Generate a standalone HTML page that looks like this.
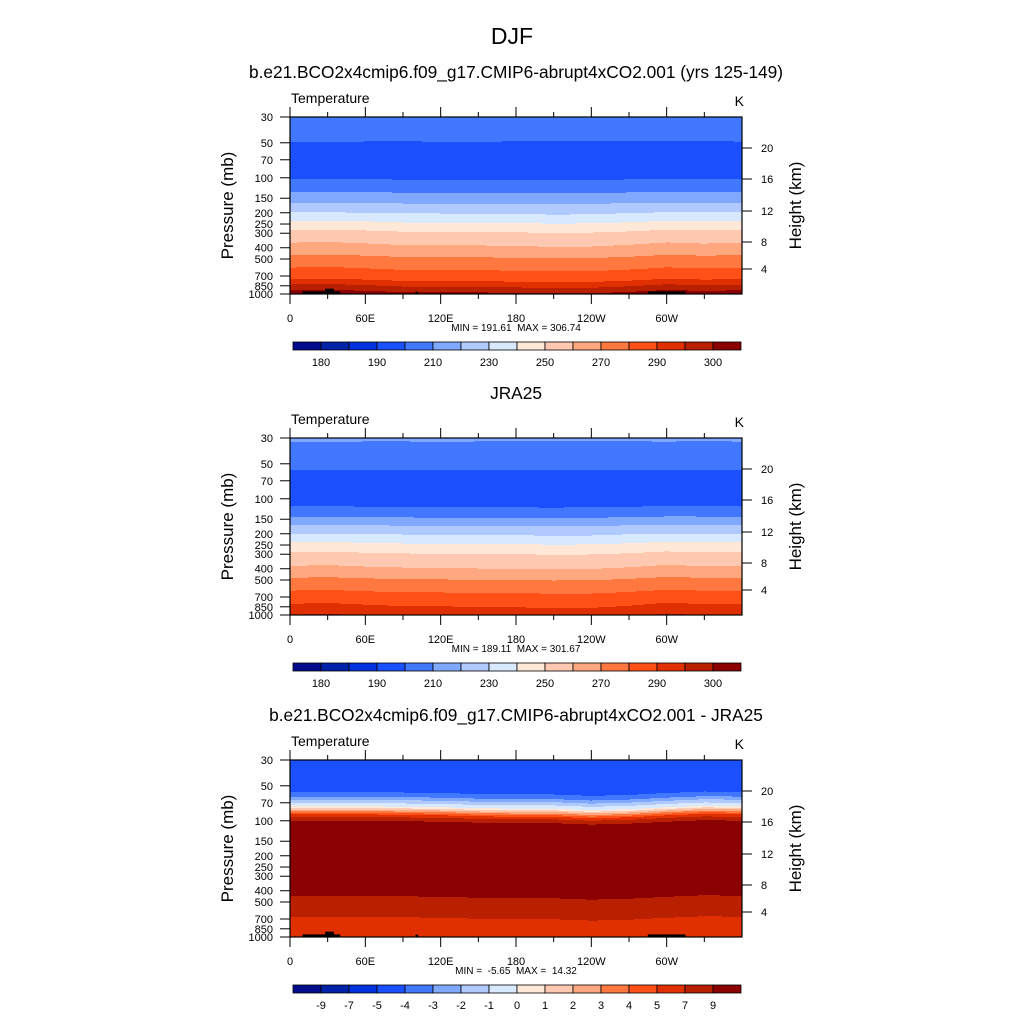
<!DOCTYPE html>
<html><head><meta charset="utf-8"><style>
body{margin:0;background:#fff;}
svg text{font-family:"Liberation Sans",Arial,sans-serif;fill:#000;white-space:pre;}
</style></head><body>
<svg id="fig" width="1024" height="1024" viewBox="0 0 1024 1024" xmlns="http://www.w3.org/2000/svg">
<rect width="1024" height="1024" fill="#fff"/>
<text x="512" y="44" font-size="23" text-anchor="middle">DJF</text>
<g id="root"></g>
</svg>
<script>
// ---- data ----
const colors=["#000c8c","#0022a8","#0033dd","#1a50ff","#4278ff","#80a8ff","#b0caff","#d8e8ff","#ffe8d8","#ffc8b0","#ffa880","#ff7840","#ff5018","#e03000","#b82000","#8b0000"];
const tLevels=[180,185,190,200,210,220,230,240,250,260,270,280,290,295,300];
const tLabels=["180","","190","","210","","230","","250","","270","","290","","300"];
const dLevels=[-9,-7,-5,-4,-3,-2,-1,0,1,2,3,4,5,7,9];
const dLabels=["-9","-7","-5","-4","-3","-2","-1","0","1","2","3","4","5","7","9"];
const pTicks=[30,50,70,100,150,200,250,300,400,500,700,850,1000];
const zTicks=["20","16","12","8","4"];
const zTickOffsets=[31,62,94,125,152];
const lonTicks=[0,60,120,180,240,300];
const lonLabels=["0","60E","120E","180","120W","60W"];
const lonPts=[0,30,60,90,120,150,180,210,240,270,300,330,360];
// panel 1 model temperature profile
const p1P=[30,45,52,70,95,110,130,150,180,210,250,300,400,500,650,800,900,1000];
const p1T=[207,203,197,194,196,203,209,214,225,232,242,252,262,272,282,292,297,302];
const p1LonAdd=[1.5,2,1,0,0,0,-0.5,-1,-1,0,1.5,0.5,1.5];
const p1Shift=[1,1,1,1.005,1.01,1.01,1.01,1.01,1.005,1.0,0.995,0.99,1];
// panel 2 reanalysis
const p2P=[30,33,48,60,90,100,110,130,150,180,210,250,300,400,500,650,800,900,1000];
const p2T=[212,209,205,198,194,192,197,205,212,224,232,242,251,261,271,281,289,292,294];
const p2LonAdd=[1,1.5,0.5,0,0,-0.5,-0.5,-1,-1,0,1.5,0.5,1];
const p2Shift=[1,1,1,1.005,1.01,1.01,1.01,1.01,1.005,1.0,0.995,0.99,1];
// panel 3 difference
const p3P=[30,45,55,62,68,75,80,88,95,105,200,400,460,600,700,850,1000];
const p3T=[-4.4,-4.8,-4.3,-3,-1.5,0,2,5,8,10,12,10,8.6,8,6.6,6.2,6];
const p3LonAdd=[0,0,0,0,0,0,0,0,0,0,0,0,0];
const p3Shift=[1,1,1,1.01,1.02,1.04,1.05,1.05,1.08,1.06,1.02,0.99,1];
// topography (lonStart, lonEnd, pTop)
const topo=[[10,40,950],[28,35,900],[100,102,955],[285,315,950]];
const panels=[
 {top:117,P:p1P,T:p1T,add:p1LonAdd,sh:p1Shift,lev:tLevels,lab:tLabels,title:"b.e21.BCO2x4cmip6.f09_g17.CMIP6-abrupt4xCO2.001 (yrs 125-149)",minmax:"MIN = 191.61  MAX = 306.74",topo:true},
 {top:438,P:p2P,T:p2T,add:p2LonAdd,sh:p2Shift,lev:tLevels,lab:tLabels,title:"JRA25",minmax:"MIN = 189.11  MAX = 301.67",topo:false},
 {top:760,P:p3P,T:p3T,add:p3LonAdd,sh:p3Shift,lev:dLevels,lab:dLabels,title:"b.e21.BCO2x4cmip6.f09_g17.CMIP6-abrupt4xCO2.001 - JRA25",minmax:"MIN =  -5.65  MAX =  14.32",topo:true}
];
// ---- rendering ----
const NS="http://www.w3.org/2000/svg";
const X0=290,X1=742,H=177;
const xs=l=>X0+(l/360)*(X1-X0);
const ys=(p,top)=>top+Math.log(p/30)/Math.log(1000/30)*H;
function mk(tag,at,par){const e=document.createElementNS(NS,tag);for(const k in at)e.setAttribute(k,at[k]);par.appendChild(e);return e;}
function interp(xa,ya,x){if(x<=xa[0])return ya[0];for(let i=1;i<xa.length;i++){if(x<=xa[i]){const t=(x-xa[i-1])/(xa[i]-xa[i-1]);return ya[i-1]+t*(ya[i]-ya[i-1]);}}return ya[ya.length-1];}
function logInterp(P,T,p){const lp=P.map(Math.log);return interp(lp,T,Math.log(p));}
function bin(v,lev){let k=0;while(k<lev.length&&v>=lev[k])k++;return k;}
const root=document.getElementById('root');
panels.forEach((pn,pi)=>{
 const g=mk('g',{},root);
 
 
 const top=pn.top;
 const t=mk('text',{x:516,y:top-39,'font-size':17.3,'text-anchor':'middle'},g);t.textContent=pn.title;
 
 
 const f=mk('g',{},g);
 
 
 const step=2;
 for(let r=0;r<H;r++){
  const p=30*Math.exp((r+0.5)/H*Math.log(1000/30));
  let runStart=X0,runC=-1;
  for(let x=X0;x<=X1;x+=step){
   let c=-1;
   if(x<X1){const lon=(x+step/2-X0)/(X1-X0)*360;
    const s=interp(lonPts,pn.sh,lon),a=interp(lonPts,pn.add,lon);
    const v=logInterp(pn.P,pn.T,Math.min(1000,Math.max(30,p/s)))+a*(p>200?1:0.3);
    c=bin(v,pn.lev);}
   if(c!==runC){
    if(runC>=0){const rc=mk('rect',{x:runStart,y:top+r,width:x-runStart,height:1.02,fill:colors[runC]},f);
     
     }
    runStart=x;runC=c;}
  }
 }
 if(pn.topo){topo.forEach(tp=>{const yt=ys(tp[2],top);const b=mk('rect',{x:xs(tp[0]),y:yt,width:xs(tp[1])-xs(tp[0]),height:top+H-yt,fill:'#000'},g);
  
  });}
 const fr=mk('rect',{x:X0,y:top,width:X1-X0,height:H,fill:'none',stroke:'#000','stroke-width':1.2},g);
 
 
 for(let l=0;l<360;l+=30){const maj=l%60===0,len=maj?10:5,x=xs(l);
  mk('line',{x1:x,y1:top,x2:x,y2:top-len,stroke:'#000','stroke-width':1},g);
  mk('line',{x1:x,y1:top+H,x2:x,y2:top+H+len,stroke:'#000','stroke-width':1},g);}
 lonTicks.forEach((l,i)=>{const tx=mk('text',{x:xs(l),y:top+H+28,'font-size':11,'text-anchor':'middle'},g);tx.textContent=lonLabels[i];
  
  });
 pTicks.forEach(p=>{const y=ys(p,top);mk('line',{x1:X0,y1:y,x2:X0-10,y2:y,stroke:'#000','stroke-width':1},g);
  const tx=mk('text',{x:X0-17,y:y+4,'font-size':11,'text-anchor':'end'},g);tx.textContent=p;
  
  });
 zTicks.forEach((z,i)=>{const y=top+zTickOffsets[i];mk('line',{x1:X1,y1:y,x2:X1+10,y2:y,stroke:'#000','stroke-width':1},g);
  const tx=mk('text',{x:X1+19,y:y+4,'font-size':11},g);tx.textContent=z;
  
  });
 const yl=mk('text',{x:0,y:0,'font-size':17,'text-anchor':'middle',transform:`translate(233,${top+H/2}) rotate(-90)`},g);yl.textContent="Pressure (mb)";
 
 
 const yr=mk('text',{x:0,y:0,'font-size':17,'text-anchor':'middle',transform:`translate(801,${top+H/2}) rotate(-90)`},g);yr.textContent="Height (km)";
 
 
 const lt=mk('text',{x:291,y:top-14,'font-size':14},g);lt.textContent="Temperature";
 
 
 const kt=mk('text',{x:744,y:top-11,'font-size':14,'text-anchor':'end'},g);kt.textContent="K";
 
 
 const mm=mk('text',{x:516,y:top+H+37,'font-size':10,'text-anchor':'middle'},g);mm.textContent=pn.minmax;
 
 
 const cb=mk('g',{},g);
 
 
 const cy=top+225,bw=(741-293)/16;
 colors.forEach((c,i)=>{const b=mk('rect',{x:293+i*bw,y:cy,width:bw,height:8,fill:c,stroke:'#000','stroke-width':0.8},cb);
  
  });
 pn.lab.forEach((s,i)=>{if(!s)return;const tx=mk('text',{x:293+(i+1)*bw,y:cy+24,'font-size':11,'text-anchor':'middle'},cb);tx.textContent=s;
  
  });
});
</script>
</body></html>
